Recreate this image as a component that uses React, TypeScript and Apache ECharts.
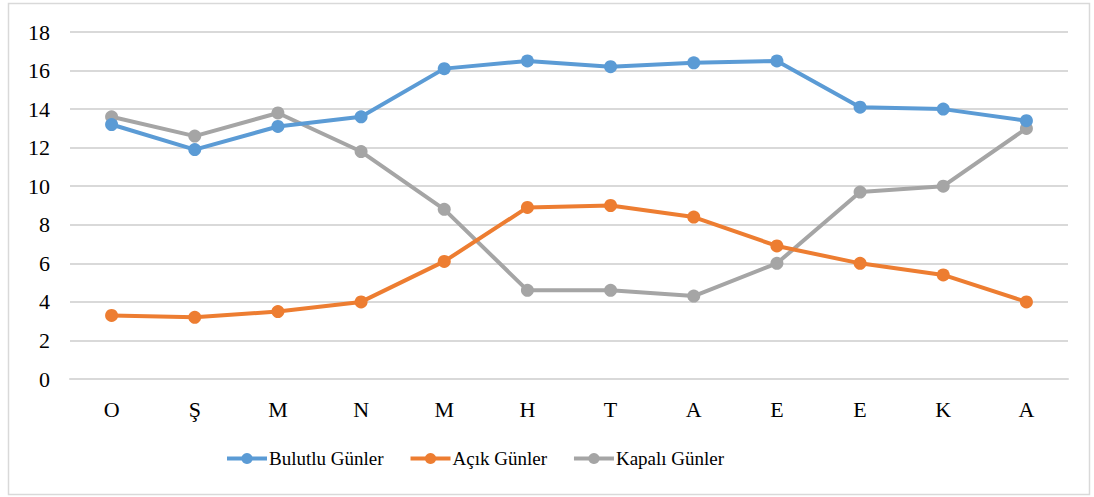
import React, { useEffect, useRef } from "react";
import * as echarts from "echarts";

const categories = ["O", "Ş", "M", "N", "M", "H", "T", "A", "E", "E", "K", "A"];
const bulutlu = [13.2, 11.9, 13.1, 13.6, 16.1, 16.5, 16.2, 16.4, 16.5, 14.1, 14.0, 13.4];
const acik = [3.3, 3.2, 3.5, 4.0, 6.1, 8.9, 9.0, 8.4, 6.9, 6.0, 5.4, 4.0];
const kapali = [13.6, 12.6, 13.8, 11.8, 8.8, 4.6, 4.6, 4.3, 6.0, 9.7, 10.0, 13.0];
const seriesNames = ["Bulutlu Günler", "Açık Günler", "Kapalı Günler"];
const colors = ["#5b9bd5", "#ed7d31", "#a5a5a5"];

export default function App() {
  const ref = useRef<HTMLDivElement>(null);
  useEffect(() => {
    if (!ref.current) return;
    const chart = echarts.init(ref.current, null, { renderer: "svg" });
    const font = "Liberation Serif";
    const datasets = [bulutlu, acik, kapali];
    chart.setOption({
      animation: false,
      backgroundColor: "#ffffff",
      textStyle: { fontFamily: font },
      graphic: [
        {
          type: "rect",
          shape: { x: 8.5, y: 3.5, width: 1081, height: 491 },
          style: { fill: "none", stroke: "#d9d9d9", lineWidth: 1.5 },
          silent: true,
        },
      ],
      grid: { left: 70, right: 26, top: 32, bottom: 118, containLabel: false },
      legend: {
        top: 444,
        left: 220,
        itemWidth: 40,
        itemHeight: 14,
        itemGap: 25,
        lineStyle: { width: 4 },
        textStyle: { fontFamily: font, fontSize: 19, color: "#000", padding: [0, 0, 0, -3] },
        data: seriesNames,
      },
      xAxis: {
        type: "category",
        data: categories,
        boundaryGap: true,
        axisLine: { show: true, lineStyle: { color: "#d9d9d9", width: 2 } },
        axisTick: { show: false },
        axisLabel: { color: "#000", fontSize: 22, fontFamily: font, margin: 19 },
      },
      yAxis: {
        type: "value",
        min: 0,
        max: 18,
        interval: 2,
        axisLine: { show: false },
        axisTick: { show: false },
        axisLabel: { color: "#000", fontSize: 22, fontFamily: font, margin: 20 },
        splitLine: { show: true, lineStyle: { color: "#d9d9d9", width: 2 } },
      },
      series: seriesNames.map((name, i) => ({
        name,
        type: "line",
        data: datasets[i],
        symbol: "circle",
        symbolSize: 13,
        lineStyle: { width: 4, color: colors[i] },
        itemStyle: { color: colors[i] },
        z: 3 - i,
      })),
    });
    return () => chart.dispose();
  }, []);
  return (
    <div
      ref={ref}
      style={{ position: "fixed", left: 0, top: 0, width: 1094, height: 497 }}
    />
  );
}
